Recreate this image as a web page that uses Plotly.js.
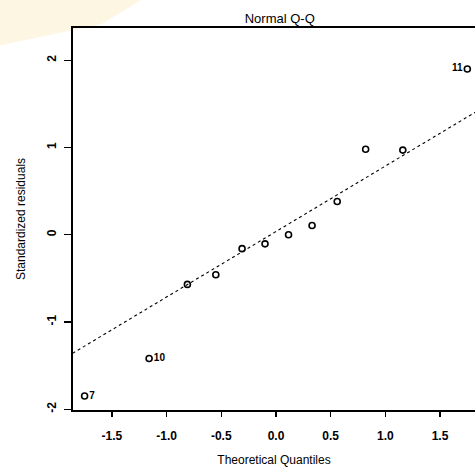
<!DOCTYPE html>
<html>
<head>
<meta charset="utf-8">
<script src="https://cdn.plot.ly/plotly-3.0.1.min.js"></script>
<style>html,body{margin:0;padding:0;background:#fff;}#chart{width:475px;height:468px;}</style>
</head>
<body>
<div id="chart"></div>
<script>
// Theoretical quantiles (x) and ordered standardized residuals (y)
var theoretical = [-1.75, -1.16, -0.81, -0.55, -0.31, -0.10, 0.115, 0.33, 0.56, 0.82, 1.16, 1.75];
var residuals   = [-1.85, -1.42, -0.57, -0.46, -0.16, -0.105, 0.0, 0.105, 0.38, 0.98, 0.97, 1.90];
var pointLabels = ["7", "10", "", "", "", "", "", "", "", "", "", "11"];
// Reference (qqline) endpoints
var qqLineX = [-1.86, 1.83];
var qqLineY = [-1.36, 1.41];
var xTickVals = [-1.5, -1.0, -0.5, 0.0, 0.5, 1.0, 1.5];
var xTickText = ["-1.5", "-1.0", "-0.5", "0.0", "0.5", "1.0", "1.5"];
var yTickVals = [-2, -1, 0, 1, 2];
var yTickText = ["-2", "-1", "0", "1", "2"];

var labelPos = pointLabels.map(function (t, i) { return i === pointLabels.length - 1 ? "middle left" : "middle right"; });

var fam = "Liberation Sans, Arial, sans-serif";

var traces = [
  {
    x: qqLineX, y: qqLineY, mode: "lines", type: "scatter",
    line: {color: "#000", width: 1.1, dash: "dot"},
    hoverinfo: "skip", showlegend: false
  },
  {
    x: theoretical, y: residuals, mode: "markers+text", type: "scatter",
    text: pointLabels, textposition: labelPos,
    textfont: {family: fam, size: 10, color: "#000", weight: "bold"},
    marker: {symbol: "circle-open", size: 6, color: "#000", line: {color: "#000", width: 1.6}},
    showlegend: false, cliponaxis: false
  }
];

var layout = {
  width: 475, height: 468,
  margin: {l: 73, r: 0, t: 28, b: 58, pad: 0},
  paper_bgcolor: "#fff", plot_bgcolor: "#fff",
  font: {family: fam, color: "#000", size: 12},
  title: {text: "Normal Q-Q", font: {family: fam, size: 13, color: "#000"},
          x: 0.589, xref: "container", xanchor: "center", y: 0.9615, yref: "container", yanchor: "middle"},
  xaxis: {
    range: [-1.856, 1.82], showgrid: false, zeroline: false,
    showline: true, linecolor: "#000", linewidth: 1.6, mirror: true,
    ticks: "outside", ticklen: 5, tickwidth: 1.2, tickcolor: "#000",
    tickvals: xTickVals, ticktext: xTickText, ticklabelstandoff: 9,
    tickfont: {family: fam, size: 12, color: "#000", weight: "bold"},
    title: {text: "Theoretical Quantiles", font: {family: fam, size: 12, color: "#000"}, standoff: 13}
  },
  yaxis: {
    range: [-2.01, 2.37], showgrid: false, zeroline: false,
    showline: true, linecolor: "#000", linewidth: 1.6, mirror: false,
    ticks: "outside", ticklen: 7, tickwidth: 1.2, tickcolor: "#000",
    tickvals: yTickVals, ticktext: yTickText, tickangle: -90, ticklabelstandoff: 4,
    tickfont: {family: fam, size: 12, color: "#000", weight: "bold"},
    title: {text: "Standardized residuals", font: {family: fam, size: 12, color: "#000"}, standoff: 16}
  },
  shapes: [
    {type: "path", xref: "paper", yref: "paper", layer: "below",
     path: "M -0.182 1.073 L 0.17 1.073 L 0.07 1.01 L -0.182 0.955 Z",
     fillcolor: "#fcf6e3", line: {width: 0}}
  ]
};

Plotly.newPlot("chart", traces, layout, {displayModeBar: false, staticPlot: true});
</script>
</body>
</html>
